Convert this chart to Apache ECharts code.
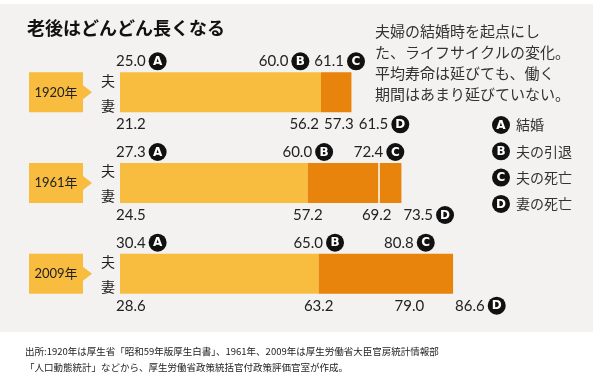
<!DOCTYPE html>
<html>
<head>
<meta charset="utf-8">
<script src="https://cdn.jsdelivr.net/npm/echarts@6/dist/echarts.min.js"></script>
<style>
  html, body { margin: 0; padding: 0; background: #fff; }
  #main { width: 604px; height: 375px; }
</style>
</head>
<body>
<div id="main"></div>
<script>
// ages
var years = ['1920年', '1961年', '2009年'];
var husMarry = [25.0, 27.3, 30.4];
var husRetire = [60.0, 60.0, 65.0];
var husDeath = [61.1, 72.4, 80.8];
var wifeMarry = [21.2, 24.5, 28.6];
var wifeAtRetire = [56.2, 57.2, 63.2];
var wifeAtHusDeath = [57.3, 69.2, 79.0];
var wifeDeath = [61.5, 73.5, 86.6];
var showDivider = [false, true, false];

var legendKeys = ['A', 'B', 'C', 'D'];
var legendNames = ['結婚', '夫の引退', '夫の死亡', '妻の死亡'];
var noteLines = ['夫婦の結婚時を起点にし', 'た、ライフサイクルの変化。', '平均寿命は延びても、働く', '期間はあまり延びていない。'];
var sourceLines = ['出所:1920年は厚生省「昭和59年版厚生白書」、1961年、2009年は厚生労働省大臣官房統計情報部',
                   '「人口動態統計」などから、厚生労働省政策統括官付政策評価官室が作成。'];

// bar lengths = years since marriage
var workYears = years.map(function (y, i) { return +(wifeAtRetire[i] - wifeMarry[i]).toFixed(1); });
var afterYears = years.map(function (y, i) { return +(wifeDeath[i] - wifeAtRetire[i]).toFixed(1); });

var YELLOW = '#F8BC3E', ORANGE = '#E8830B', INK = '#222';
var JP = '"Noto Sans CJK JP"';
var NUM_FONT = '15px Lato, ' + JP;
var BADGE_R = 9;
var NOTE_LEFT = 375;

var cv = document.createElement('canvas').getContext('2d');
function textW(t, font) { cv.font = font; return cv.measureText(t).width; }
function fmt(v) { return v.toFixed(1); }

function badge(kids, letter, x, y) {
    kids.push({ type: 'circle', shape: { cx: x, cy: y, r: BADGE_R }, style: { fill: '#111' } });
    kids.push({ type: 'text', style: { text: letter, x: x, y: y + 0.5, font: 'bold 12px "DejaVu Sans"', fill: '#fff', align: 'center', verticalAlign: 'middle' } });
}

// spread labels of one row so they don't overlap, keeping them near their anchors
function placeLabels(items, y, px, kids, maxRight) {
    items.forEach(function (it) {
        it.w = textW(it.t, NUM_FONT) + (it.b ? 3 + 2 * BADGE_R : 0);
        var a = px(it.v);
        if (it.anchor === 'start') it.x = a - 4;
        else if (it.anchor === 'end') it.x = a + 2;
        else it.x = a - it.w / 2;
    });
    for (var n = 0; n < 20; n++) {
        for (var k = 1; k < items.length; k++) {
            var p = items[k - 1], c = items[k];
            var o = p.x + p.w + 5 - c.x;
            if (o > 0) {
                if (k === 1) c.x += o;
                else { p.x -= o / 2; c.x += o / 2; }
            }
        }
    }
    if (maxRight) {
        var last = items[items.length - 1];
        if (last.x + last.w > maxRight) last.x = maxRight - last.w;
        for (var j = items.length - 2; j > 0; j--) {
            var over = items[j].x + items[j].w + 5 - items[j + 1].x;
            if (over > 0) items[j].x -= over;
        }
    }
    items.forEach(function (it) {
        kids.push({ type: 'text', style: { text: it.t, x: it.x, y: y, font: NUM_FONT, fill: INK, align: 'left', verticalAlign: 'middle' } });
        if (it.b) badge(kids, it.b, it.x + it.w - BADGE_R, y);
    });
}

function renderRow(params, api) {
    var i = params.dataIndex;
    var base = api.coord([0, i]);
    var x0 = base[0], cy = base[1];
    function px(v) { return api.coord([v, i])[0]; }
    var kids = [];

    // year tag with arrow
    kids.push({
        type: 'polygon',
        shape: { points: [[x0 - 91, cy - 20], [x0 - 37, cy - 20], [x0 - 37, cy - 7], [x0 - 28, cy], [x0 - 37, cy + 7], [x0 - 37, cy + 20], [x0 - 91, cy + 20]] },
        style: { fill: YELLOW }
    });
    kids.push({ type: 'text', style: { text: years[i], x: x0 - 64, y: cy, font: '13px Lato, ' + JP, fill: INK, align: 'center', verticalAlign: 'middle' } });
    kids.push({ type: 'text', style: { text: '夫', x: x0 - 12, y: cy - 12, font: '14px ' + JP, fill: INK, align: 'center', verticalAlign: 'middle' } });
    kids.push({ type: 'text', style: { text: '妻', x: x0 - 12, y: cy + 13, font: '14px ' + JP, fill: INK, align: 'center', verticalAlign: 'middle' } });

    if (showDivider[i]) {
        var dx = px(husDeath[i] - husMarry[i]);
        kids.push({ type: 'rect', shape: { x: dx - 0.75, y: cy - 20, width: 1.5, height: 40 }, style: { fill: '#fff' } });
    }

    var top = [
        { v: 0, t: fmt(husMarry[i]), b: 'A', anchor: 'start' },
        { v: husRetire[i] - husMarry[i], t: fmt(husRetire[i]), b: 'B' },
        { v: husDeath[i] - husMarry[i], t: fmt(husDeath[i]), b: 'C' }
    ];
    var bottom = [
        { v: 0, t: fmt(wifeMarry[i]), anchor: 'start' },
        { v: wifeAtRetire[i] - wifeMarry[i], t: fmt(wifeAtRetire[i]) },
        { v: wifeAtHusDeath[i] - wifeMarry[i], t: fmt(wifeAtHusDeath[i]) },
        { v: wifeDeath[i] - wifeMarry[i], t: fmt(wifeDeath[i]), b: 'D', anchor: 'end' }
    ];
    var topY = cy - 31;
    placeLabels(top, topY, px, kids, topY < 110 ? NOTE_LEFT - 10 : 0);
    placeLabels(bottom, cy + 32, px, kids, 0);
    return { type: 'group', children: kids };
}

var graphics = [
    { type: 'rect', left: 0, top: 4, z: -10, shape: { width: 593, height: 328 }, style: { fill: '#F3F2F1' } },
    { type: 'text', left: 27, top: 19, style: { text: '老後はどんどん長くなる', font: 'bold 18px ' + JP, fill: '#111' } }
];
noteLines.forEach(function (t, k) {
    graphics.push({ type: 'text', left: NOTE_LEFT, top: 24 + k * 21, style: { text: t, font: '15px ' + JP, fill: '#333' } });
});
legendKeys.forEach(function (key, k) {
    var cy = 125 + k * 26.3;
    graphics.push({ type: 'circle', shape: { cx: 501, cy: cy, r: BADGE_R }, style: { fill: '#111' } });
    graphics.push({ type: 'text', style: { text: key, x: 501, y: cy + 0.5, font: 'bold 12px "DejaVu Sans"', fill: '#fff', align: 'center', verticalAlign: 'middle' } });
    graphics.push({ type: 'text', style: { text: legendNames[k], x: 516, y: cy, font: '14px ' + JP, fill: '#333', verticalAlign: 'middle' } });
});
sourceLines.forEach(function (t, k) {
    graphics.push({ type: 'text', style: { text: t, x: 25, y: 351 + k * 16, font: '9.5px ' + JP, fill: INK, verticalAlign: 'middle' } });
});

var chart = echarts.init(document.getElementById('main'));
var option = {
    backgroundColor: '#fff',
    animation: false,
    graphic: graphics,
    grid: { left: 120, right: 82, top: 47, bottom: 56 },
    xAxis: { type: 'value', min: 0, max: 70, show: false },
    yAxis: { type: 'category', data: years, inverse: true, show: false },
    series: [
        {
            name: '就労', type: 'bar', stack: 'life', barWidth: 40,
            itemStyle: { color: YELLOW }, data: workYears
        },
        {
            name: '引退後', type: 'bar', stack: 'life', barWidth: 40,
            itemStyle: { color: ORANGE }, data: afterYears
        },
        {
            name: 'labels', type: 'custom', z: 5, clip: false,
            renderItem: renderRow,
            data: years.map(function (y, i) { return [0, i]; })
        }
    ]
};
chart.setOption(option);
</script>
</body>
</html>
